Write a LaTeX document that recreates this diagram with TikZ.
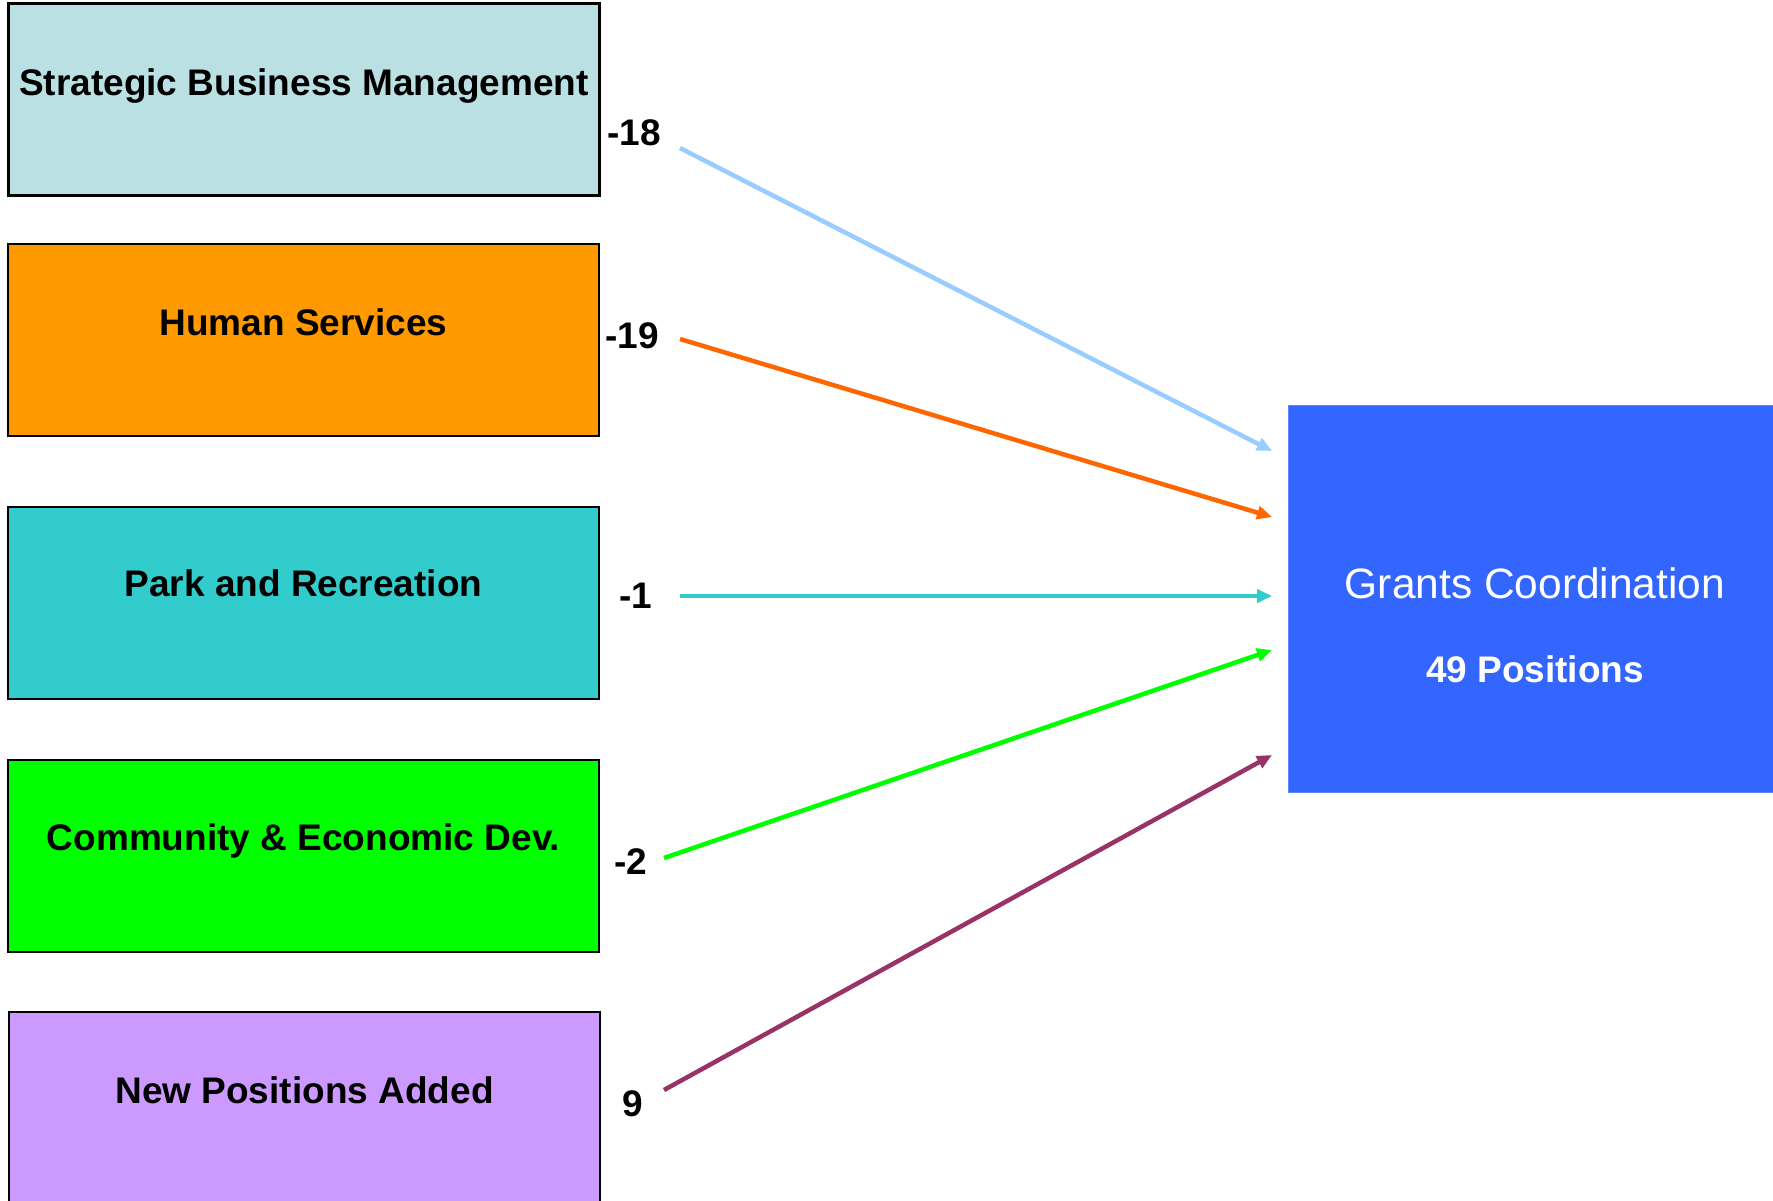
\documentclass[tikz,border=0pt]{standalone}
\usepackage{fontspec}
\setmainfont{Liberation Sans}
\usetikzlibrary{arrows.meta}
\definecolor{sbmfill}{HTML}{BAE0E3}
\definecolor{hsfill}{HTML}{FF9900}
\definecolor{prfill}{HTML}{33CCCC}
\definecolor{cedfill}{HTML}{00FF00}
\definecolor{npafill}{HTML}{CC99FF}
\definecolor{grantfill}{HTML}{3366FF}
\definecolor{sbmarrow}{HTML}{99CCFF}
\definecolor{hsarrow}{HTML}{FF6600}
\definecolor{prarrow}{HTML}{33CCCC}
\definecolor{cedarrow}{HTML}{00FF00}
\definecolor{npaarrow}{HTML}{993366}
\tikzset{
  deptbox/.style={draw=black, line width=2.5pt, rectangle, minimum width=591pt, minimum height=192pt, inner sep=0pt},
  bigtext/.style={font=\fontsize{37}{44}\selectfont\bfseries, inner sep=0pt},
  grantfont/.style={font=\fontsize{42.5}{50}\selectfont, text=white, inner sep=0pt},
  flow/.style={line width=4.5pt, -{Triangle[length=15pt,width=13pt]}}
}
\begin{document}
\begin{tikzpicture}[x=1pt,y=-1pt]
\clip (0,0) rectangle (1773,1200);
\fill[white] (0,0) rectangle (1773,1200);
% department boxes
\node[deptbox, fill=sbmfill] (sbm) at (304,99.5) {};
\node[deptbox, fill=hsfill] (hs) at (303.5,340) {};
\node[deptbox, fill=prfill] (pr) at (303.5,603) {};
\node[deptbox, fill=cedfill] (ced) at (303.5,856) {};
\node[deptbox, fill=npafill, minimum height=230pt] (npa) at (304.5,1127) {};
\node[bigtext] (sbmt) at (304,86) {Strategic Business Management};
\node[bigtext] (hst) at (303.5,322) {Human Services};
\node[bigtext] (prt) at (303.5,583) {Park and Recreation};
\node[bigtext] (cedt) at (303.5,841) {Community \& Economic Dev.};
\node[bigtext] (npat) at (304.5,1090) {New Positions Added};
% grants box
\node[rectangle, fill=grantfill, draw=grantfill!80!white, line width=1pt, minimum width=494pt, minimum height=387pt, inner sep=0pt] (grants) at (1535,598.5) {};
\node[grantfont] (gt) at (1535,583) {Grants Coordination};
\node[grantfont, font=\fontsize{37}{44}\selectfont\bfseries] (gp) at (1535,669) {49 Positions};
% labels
\node[bigtext] (l1) at (634,133) {-18};
\node[bigtext] (l2) at (632,336) {-19};
\node[bigtext] (l3) at (636,596) {-1};
\node[bigtext] (l4) at (631,862) {-2};
\node[bigtext] (l5) at (633,1104) {9};
% arrow anchors
\coordinate (s1) at (680,148);
\coordinate (s2) at (680,339);
\coordinate (s3) at (680,596);
\coordinate (s4) at (664,858);
\coordinate (s5) at (664,1090);
\coordinate (t1) at (1272,451);
\coordinate (t2) at (1272,517);
\coordinate (t3) at (1272,596);
\coordinate (t4) at (1272,650);
\coordinate (t5) at (1272,755);
\draw[flow, sbmarrow] (s1) -- (t1);
\draw[flow, hsarrow] (s2) -- (t2);
\draw[flow, prarrow] (s3) -- (t3);
\draw[flow, cedarrow] (s4) -- (t4);
\draw[flow, npaarrow] (s5) -- (t5);
\end{tikzpicture}
\end{document}
